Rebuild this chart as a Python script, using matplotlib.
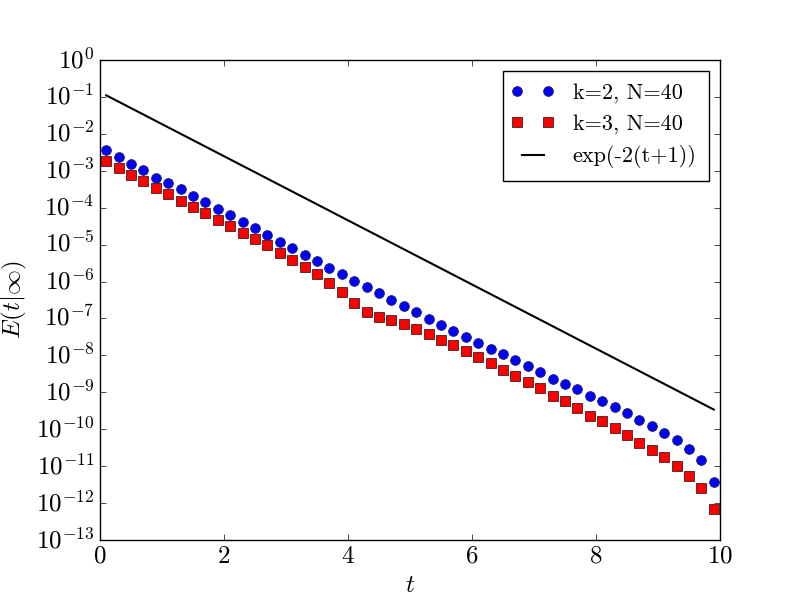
import numpy as np
import matplotlib
matplotlib.use("Agg")
import matplotlib.pyplot as plt
from matplotlib.ticker import NullLocator, LogFormatterMathtext
from matplotlib.legend_handler import HandlerLine2D

t = [0.1, 0.3, 0.5, 0.7, 0.9, 1.1, 1.3, 1.5, 1.7, 1.9,
     2.1, 2.3, 2.5, 2.7, 2.9, 3.1, 3.3, 3.5, 3.7, 3.9,
     4.1, 4.3, 4.5, 4.7, 4.9, 5.1, 5.3, 5.5, 5.7, 5.9,
     6.1, 6.3, 6.5, 6.7, 6.9, 7.1, 7.3, 7.5, 7.7, 7.9,
     8.1, 8.3, 8.5, 8.7, 8.9, 9.1, 9.3, 9.5, 9.7, 9.9]

log_k2 = [-2.438, -2.627, -2.826, -2.989, -3.188, -3.340, -3.503, -3.693, -3.855, -4.045,
          -4.207, -4.388, -4.559, -4.749, -4.938, -5.101, -5.287, -5.453, -5.643, -5.796,
          -5.995, -6.157, -6.320, -6.509, -6.672, -6.834, -7.024, -7.187, -7.350, -7.512,
          -7.675, -7.828, -7.972, -8.130, -8.288, -8.459, -8.631, -8.776, -8.920, -9.092,
          -9.245, -9.408, -9.570, -9.760, -9.922, -10.112, -10.292, -10.536, -10.842, -11.421]

log_k3 = [-2.736, -2.934, -3.115, -3.277, -3.476, -3.629, -3.819, -3.990, -4.144, -4.334,
          -4.505, -4.695, -4.848, -5.020, -5.236, -5.417, -5.611, -5.796, -6.040, -6.284,
          -6.582, -6.826, -6.970, -7.042, -7.151, -7.286, -7.421, -7.584, -7.728, -7.891,
          -8.044, -8.215, -8.405, -8.563, -8.730, -8.892, -9.092, -9.245, -9.434, -9.634,
          -9.778, -9.976, -10.165, -10.366, -10.563, -10.761, -11.005, -11.268, -11.601, -12.170]

labels = ["k=2, N=40", "k=3, N=40", "exp(-2(t+1))"]
yticks_exp = list(range(-13, 1))
xticks = [0, 2, 4, 6, 8, 10]

plt.style.use("classic")
plt.rcParams["mathtext.fontset"] = "cm"
plt.rcParams["font.family"] = ["cmr10", "DejaVu Serif"]
plt.rcParams["axes.formatter.use_mathtext"] = True
plt.rcParams["axes.unicode_minus"] = False

fig = plt.figure(figsize=(8, 6), dpi=100, facecolor="white")
ax = fig.add_subplot(111)

tt = np.array(t)
l1, = ax.semilogy(tt, 10.0 ** np.array(log_k2), "o", color="blue", markersize=7,
                  markeredgecolor="#202050", markeredgewidth=0.6, label=labels[0])
l2, = ax.semilogy(tt, 10.0 ** np.array(log_k3), "s", color="red", markersize=7,
                  markeredgecolor="#402020", markeredgewidth=0.6, label=labels[1])
l3, = ax.semilogy(tt, np.exp(-2 * (tt + 1)), "-", color="black", linewidth=1.5, label=labels[2])

ax.set_xlim(0, 10)
ax.set_ylim(1e-13, 1)
ax.set_xticks(xticks)
ax.set_yticks([10.0 ** k for k in yticks_exp])
ax.yaxis.set_major_formatter(LogFormatterMathtext())
ax.yaxis.set_minor_locator(NullLocator())
ax.tick_params(labelsize=18)

ax.set_xlabel(r"$t$", fontsize=18)
ax.set_ylabel(r"$E(t|\infty)$", fontsize=18)

hm = {l1: HandlerLine2D(numpoints=2, marker_pad=0.1),
      l2: HandlerLine2D(numpoints=2, marker_pad=0.1)}
leg = ax.legend(loc="upper right", numpoints=2, fontsize=16, frameon=True,
                fancybox=False, handlelength=1.6, handletextpad=1.0,
                labelspacing=0.5, borderpad=0.55, handler_map=hm)
leg.get_frame().set_edgecolor("black")

fig.savefig("out.png", dpi=100, facecolor="white")
